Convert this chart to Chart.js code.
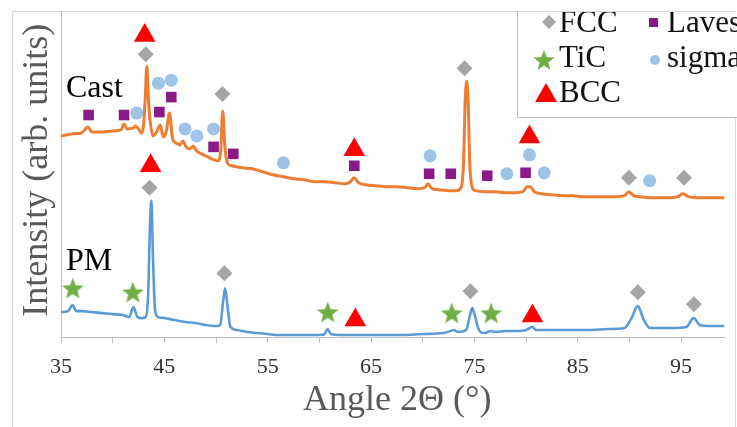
<!DOCTYPE html>
<html>
<head>
<meta charset="utf-8">
<script src="https://cdn.jsdelivr.net/npm/chart.js"></script>
<style>
  body { margin: 0; background: #fff; }
  #wrap { width: 737px; height: 427px; }
</style>
</head>
<body>
<div id="wrap"><canvas id="xrd" width="737" height="427"></canvas></div>
<script>
// Cast pattern (2theta in degrees, intensity in arb. units)
const castAngle = [35.0, 36.0, 37.0, 37.6, 38.0, 39.0, 40.0, 40.8, 41.1, 41.4, 42.0, 42.2, 42.5, 42.8,
  43.0, 43.15, 43.3, 43.45, 43.65, 43.9, 44.2, 44.6, 44.9, 45.2, 45.5, 45.8, 46.1, 46.5, 46.8, 47.1,
  47.5, 47.8, 48.1, 48.6, 49.2, 49.8, 50.2, 50.45, 50.65, 50.85, 51.1, 51.5, 52.5, 53.5, 54.5, 55.5,
  56.5, 57.5, 58.5, 59.5, 60.5, 61.5, 62.5, 63.0, 63.35, 63.8, 64.5, 65.5, 66.5, 67.5, 68.5, 69.5,
  70.2, 70.5, 70.9, 71.5, 72.5, 73.3, 73.7, 73.95, 74.1, 74.25, 74.4, 74.55, 74.8, 75.1, 76.0, 77.0,
  78.0, 79.0, 79.7, 80.1, 80.4, 80.8, 81.5, 82.5, 83.5, 84.5, 85.5, 86.5, 87.5, 88.5, 89.5, 89.95,
  90.4, 91.0, 92.0, 93.0, 94.0, 94.7, 95.2, 95.7, 96.5, 97.5, 98.5, 99.2];
const castCounts = [202, 204, 205, 211, 206, 206, 207, 208, 214, 209, 210, 212, 209, 205,
  214, 240, 272, 240, 215, 202, 205, 213, 201, 207, 225, 199, 195, 193, 197, 191,
  189, 192, 187, 184, 181, 178, 177, 187, 227, 192, 175, 172, 170, 169, 166, 163,
  161, 159, 158, 156, 156, 155, 154, 156, 160, 155, 153, 152, 151, 151, 150, 149,
  150, 154, 149, 148, 147, 147, 150, 175, 235, 257, 235, 175, 150, 147, 146, 146,
  145, 145, 146, 151, 151, 146, 144, 143, 142, 142, 141, 141, 141, 141, 142, 146,
  142, 141, 140, 140, 140, 141, 144, 141, 140, 140, 140, 140];

// PM pattern
const pmAngle = [35.0, 35.7, 36.1, 36.5, 37.0, 38.0, 39.0, 40.0, 41.0, 41.6, 42.0, 42.4, 42.8, 43.2,
  43.45, 43.6, 43.75, 43.9, 44.1, 44.4, 45.0, 46.0, 47.0, 48.0, 49.0, 50.0, 50.4, 50.7, 50.88, 51.1,
  51.4, 52.0, 53.0, 54.0, 55.0, 56.0, 58.0, 60.0, 60.5, 60.8, 61.1, 62.0, 63.0, 64.0, 66.0, 68.0,
  70.0, 72.0, 72.7, 73.0, 73.4, 74.2, 74.6, 74.8, 75.0, 75.5, 76.0, 76.6, 77.0, 78.0, 79.0, 80.0,
  80.6, 81.0, 82.0, 84.0, 86.0, 88.0, 89.5, 90.2, 90.8, 91.4, 92.0, 93.0, 94.0, 95.5, 96.2, 96.8,
  97.5, 99.2];
const pmCounts = [25, 26, 32, 26, 26, 25, 24, 23, 22, 20, 30, 20, 19, 20,
  47, 110, 137, 80, 27, 20, 19, 17, 15, 14, 12, 11, 12, 37, 49, 32,
  10, 7, 5, 4, 3, 2, 2, 2, 3, 8, 3, 2, 2, 2, 2, 2,
  3, 4, 6, 7, 5, 7, 23, 29, 23, 6, 4, 6, 5, 6, 6, 7,
  10, 7, 7, 7, 7, 8, 9, 19, 31, 17, 9, 9, 9, 10, 19, 12,
  11, 11];

// phase markers: [angle, height]
const fccPeaks = [[43.2, 284], [50.62, 244], [74.05, 270], [89.95, 160], [95.29, 160],
  [43.57, 150], [50.81, 64], [74.62, 46], [90.81, 45], [96.24, 33]];
const lavesPeaks = [[37.67, 223], [41.1, 223], [44.52, 226], [45.67, 241], [49.76, 191], [51.67, 184],
  [63.38, 172], [70.62, 164], [72.71, 164], [76.24, 162], [79.95, 165]];
const sigmaPeaks = [[42.33, 225], [44.43, 255], [45.67, 258], [47.0, 209], [48.14, 202], [49.76, 209],
  [56.52, 175], [70.71, 182], [78.14, 164], [80.33, 183], [81.76, 165], [91.95, 157]];
const ticPeaks = [[36.14, 49], [41.95, 45], [60.81, 25], [72.81, 24], [76.62, 24]];
const bccPeaks = [[43.1, 303], [63.38, 188], [80.33, 201], [43.67, 172], [63.48, 17], [80.62, 21]];

const xTicks = [35, 45, 55, 65, 75, 85, 95];

const SERIF = "'Liberation Serif', 'Times New Roman', serif";

function pairs(xs, ys) { return xs.map((x, i) => ({ x: x, y: ys[i] })); }
function points(list) { return list.map(p => ({ x: p[0], y: p[1] })); }

// five-pointed star sprite for the TiC markers
function starSprite(size, color) {
  const c = document.createElement('canvas');
  c.width = size; c.height = size;
  const g = c.getContext('2d');
  const cx = size / 2, cy = size / 2 + 1, ro = size / 2, ri = ro * 0.42;
  g.beginPath();
  for (let i = 0; i < 10; i++) {
    const r = i % 2 ? ri : ro;
    const a = -Math.PI / 2 + i * Math.PI / 5;
    g.lineTo(cx + r * Math.cos(a), cy + r * Math.sin(a));
  }
  g.closePath();
  g.fillStyle = color;
  g.fill();
  return c;
}
const star = starSprite(23, '#70ad47');
const starSmall = starSprite(22, '#70ad47');

function markerSet(label, list, style, color, radius) {
  return {
    label: label,
    data: points(list),
    showLine: false,
    pointStyle: style,
    pointRadius: radius,
    pointBackgroundColor: color,
    pointBorderWidth: 0,
    pointBorderColor: color,
    clip: false
  };
}

const frame = {
  id: 'frame',
  beforeDraw(chart) {
    const ctx = chart.ctx;
    ctx.save();
    ctx.fillStyle = '#fff';
    ctx.fillRect(0, 0, chart.width, chart.height);
    ctx.strokeStyle = '#d9d9d9';
    ctx.lineWidth = 1;
    ctx.beginPath();
    ctx.moveTo(12.5, chart.height + 2);
    ctx.lineTo(12.5, 11.5);
    ctx.lineTo(735.5, 11.5);
    ctx.lineTo(735.5, chart.height + 2);
    ctx.stroke();
    ctx.restore();
  },
  afterDraw(chart) {
    const ctx = chart.ctx;
    ctx.save();
    ctx.fillStyle = '#000';
    ctx.font = '32px ' + SERIF;
    ctx.textBaseline = 'alphabetic';
    ctx.fillText('Cast', 66, 97);
    ctx.fillText('PM', 66, 270);

    // legend box, cut off by the top of the frame
    ctx.beginPath();
    ctx.rect(0, 12, chart.width, chart.height);
    ctx.clip();
    ctx.fillStyle = '#fff';
    ctx.fillRect(517, 0, 230, 117);
    ctx.strokeStyle = '#bfbfbf';
    ctx.lineWidth = 1;
    ctx.strokeRect(517.5, -5, 230, 122.5);

    ctx.fillStyle = '#a5a5a5';
    ctx.beginPath();
    ctx.moveTo(549, 15); ctx.lineTo(556, 22); ctx.lineTo(549, 29); ctx.lineTo(542, 22);
    ctx.closePath(); ctx.fill();

    ctx.fillStyle = '#8b1a89';
    ctx.fillRect(649, 18, 9, 9);

    ctx.drawImage(starSmall, 533, 49);

    ctx.fillStyle = '#9dc3e6';
    ctx.beginPath(); ctx.arc(655, 60, 5, 0, Math.PI * 2); ctx.fill();

    ctx.fillStyle = '#ff0000';
    ctx.beginPath();
    ctx.moveTo(546, 83); ctx.lineTo(557, 102); ctx.lineTo(535, 102);
    ctx.closePath(); ctx.fill();

    ctx.fillStyle = '#111';
    ctx.font = '31px ' + SERIF;
    ctx.fillText('FCC', 559, 32);
    ctx.fillText('Laves', 667, 32);
    ctx.fillText('TiC', 559, 67);
    ctx.fillText('sigma', 667, 67);
    ctx.fillText('BCC', 559, 102);
    ctx.restore();
  }
};

new Chart(document.getElementById('xrd'), {
  type: 'line',
  data: {
    datasets: [
      markerSet('FCC', fccPeaks, 'rectRot', '#a5a5a5', 8),
      markerSet('Laves', lavesPeaks, 'rect', '#8b1a89', 7.5),
      markerSet('sigma', sigmaPeaks, 'circle', '#9dc3e6', 6.5),
      markerSet('TiC', ticPeaks, star, '#70ad47', 11),
      markerSet('BCC', bccPeaks, 'triangle', '#ff0000', 12.5),
      {
        label: 'Cast',
        data: pairs(castAngle, castCounts),
        borderColor: '#ed7d31',
        borderWidth: 3,
        pointRadius: 0,
        cubicInterpolationMode: 'monotone'
      },
      {
        label: 'PM',
        data: pairs(pmAngle, pmCounts),
        borderColor: '#5b9bd5',
        borderWidth: 2.6,
        pointRadius: 0,
        cubicInterpolationMode: 'monotone'
      }
    ]
  },
  options: {
    responsive: false,
    animation: false,
    layout: { padding: { left: 12, top: 11, right: 2, bottom: 0 } },
    plugins: {
      legend: { display: false },
      tooltip: { enabled: false }
    },
    scales: {
      x: {
        type: 'linear',
        min: 35,
        max: 99.2,
        afterFit(s) { s.height = 90; },
        ticks: {
          stepSize: 5,
          includeBounds: false,
          autoSkip: false,
          maxRotation: 0,
          padding: 11,
          color: '#333',
          font: { family: SERIF, size: 22 },
          callback: v => xTicks.includes(v) ? String(v) : ''
        },
        grid: { drawOnChartArea: false, tickLength: 6, color: '#bfbfbf' },
        border: { color: '#bfbfbf' },
        title: {
          display: true,
          // leading space nudges the centred title a little to the right
          text: ' Angle 2\u0398 (\u00b0)',
          color: '#595959',
          font: { family: SERIF, size: 36 },
          padding: { top: 0, bottom: 5 }
        }
      },
      y: {
        min: 0,
        max: 326,
        afterFit(s) { s.width = 49; },
        ticks: { display: false },
        grid: { display: false },
        border: { color: '#bfbfbf' },
        title: {
          display: true,
          text: ' Intensity (arb. units)',
          color: '#595959',
          font: { family: SERIF, size: 36 },
          padding: { top: 4, bottom: 0 }
        }
      }
    }
  },
  plugins: [frame]
});
</script>
</body>
</html>
